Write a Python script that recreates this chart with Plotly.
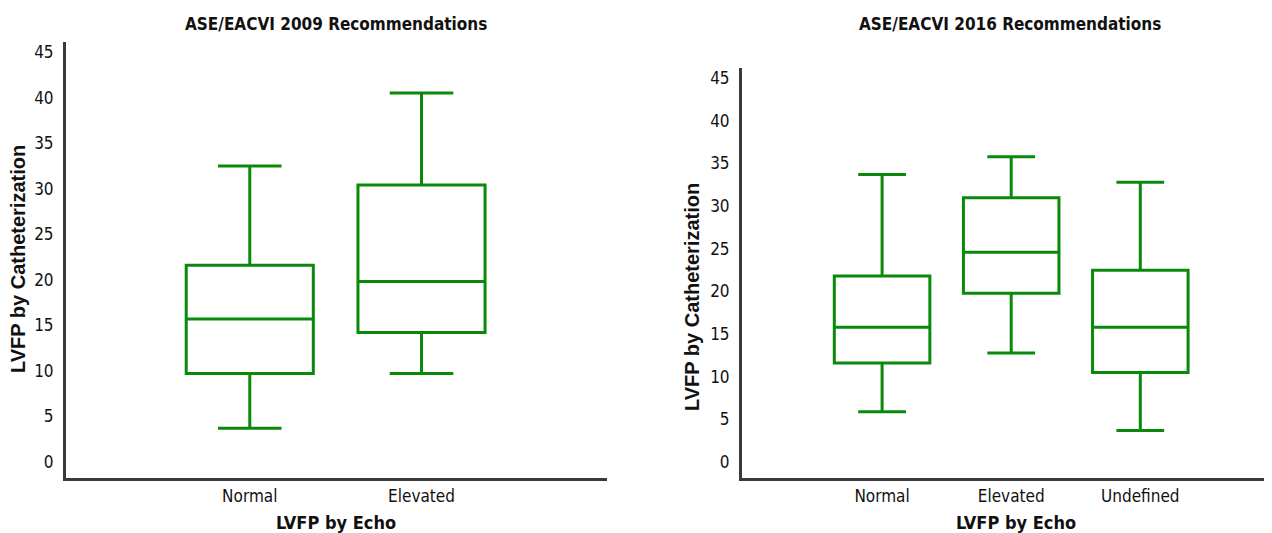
import plotly.graph_objects as go

# ---- data ----
cats_2009 = ["Normal", "Elevated"]
lower_2009 = [3.7, 9.7]
q1_2009 = [9.7, 14.2]
median_2009 = [15.7, 19.8]
q3_2009 = [21.6, 30.4]
upper_2009 = [32.5, 40.5]

cats_2016 = ["Normal", "Elevated", "Undefined"]
lower_2016 = [5.9, 12.8, 3.7]
q1_2016 = [11.6, 19.8, 10.5]
median_2016 = [15.8, 24.6, 15.8]
q3_2016 = [21.8, 31.0, 22.5]
upper_2016 = [33.7, 35.8, 32.8]

y_ticks = [0, 5, 10, 15, 20, 25, 30, 35, 40, 45]

GREEN = "#0a8a0a"
AX = "#3a3a3a"
NARROW = "DejaVu Sans Condensed, Liberation Sans Narrow, Arial Narrow, sans-serif"
BOLD = "Liberation Sans, Arial, sans-serif"

fig = go.Figure()
fig.add_trace(go.Box(
    x=cats_2009, q1=q1_2009, median=median_2009, q3=q3_2009,
    lowerfence=lower_2009, upperfence=upper_2009,
    xaxis="x", yaxis="y", width=0.74, whiskerwidth=0.5,
    line=dict(color=GREEN, width=3), fillcolor="rgba(255,255,255,0)",
    boxpoints=False, showlegend=False, hoverinfo="skip"))
fig.add_trace(go.Box(
    x=cats_2016, q1=q1_2016, median=median_2016, q3=q3_2016,
    lowerfence=lower_2016, upperfence=upper_2016,
    xaxis="x2", yaxis="y2", width=0.74, whiskerwidth=0.5,
    line=dict(color=GREEN, width=3), fillcolor="rgba(255,255,255,0)",
    boxpoints=False, showlegend=False, hoverinfo="skip"))

# page has an 8px body margin: lay the figure out in page pixels minus that offset
OFF = 8
W, H = 1272 - OFF, 533 - OFF
def px_x(p): return (p - OFF) / W
def px_y(p): return 1 - (p - OFF) / H

common_y = dict(tickvals=y_ticks, showgrid=False, zeroline=False, showline=True,
                linecolor=AX, linewidth=3, ticks="", ticklabelstandoff=6,
                tickfont=dict(family=NARROW, size=17, color="#111"))
common_x = dict(type="category", showgrid=False, zeroline=False, showline=True,
                linecolor=AX, linewidth=3, ticks="", ticklabelstandoff=1,
                tickfont=dict(family=NARROW, size=17, color="#111"))

fig.update_layout(
    width=W, height=H, paper_bgcolor="white", plot_bgcolor="white",
    margin=dict(l=0, r=0, t=0, b=0),
    xaxis=dict(domain=[px_x(66), px_x(607)], range=[-1.07, 2.08], anchor="y", **common_x),
    yaxis=dict(domain=[px_y(478), px_y(42)], range=[-1.76, 46.1], anchor="x", **common_y),
    xaxis2=dict(domain=[px_x(742), 1.0], range=[-1.085, 3.02], anchor="y2", **common_x),
    yaxis2=dict(domain=[px_y(478), px_y(68)], range=[-1.87, 46.2], anchor="x2", **common_y),
)

ann = []
def add(text, x, y, size, family, angle=0):
    ann.append(dict(text=text, x=px_x(x), y=px_y(y), xref="paper", yref="paper",
                    showarrow=False, xanchor="center", yanchor="middle", textangle=angle,
                    font=dict(family=family, size=size, color="#111")))

add("<b>ASE/EACVI 2009 Recommendations</b>", 336, 24, 17, NARROW)
add("<b>ASE/EACVI 2016 Recommendations</b>", 1010, 24, 17, NARROW)
add("<b>LVFP by Catheterization</b>", 18, 259, 20, BOLD, -90)
add("<b>LVFP by Catheterization</b>", 692, 297, 20, BOLD, -90)
add("<b>LVFP by Echo</b>", 336, 522, 18, NARROW)
add("<b>LVFP by Echo</b>", 1016, 522, 18, NARROW)
fig.update_layout(annotations=ann)

fig.write_html("out.html")
